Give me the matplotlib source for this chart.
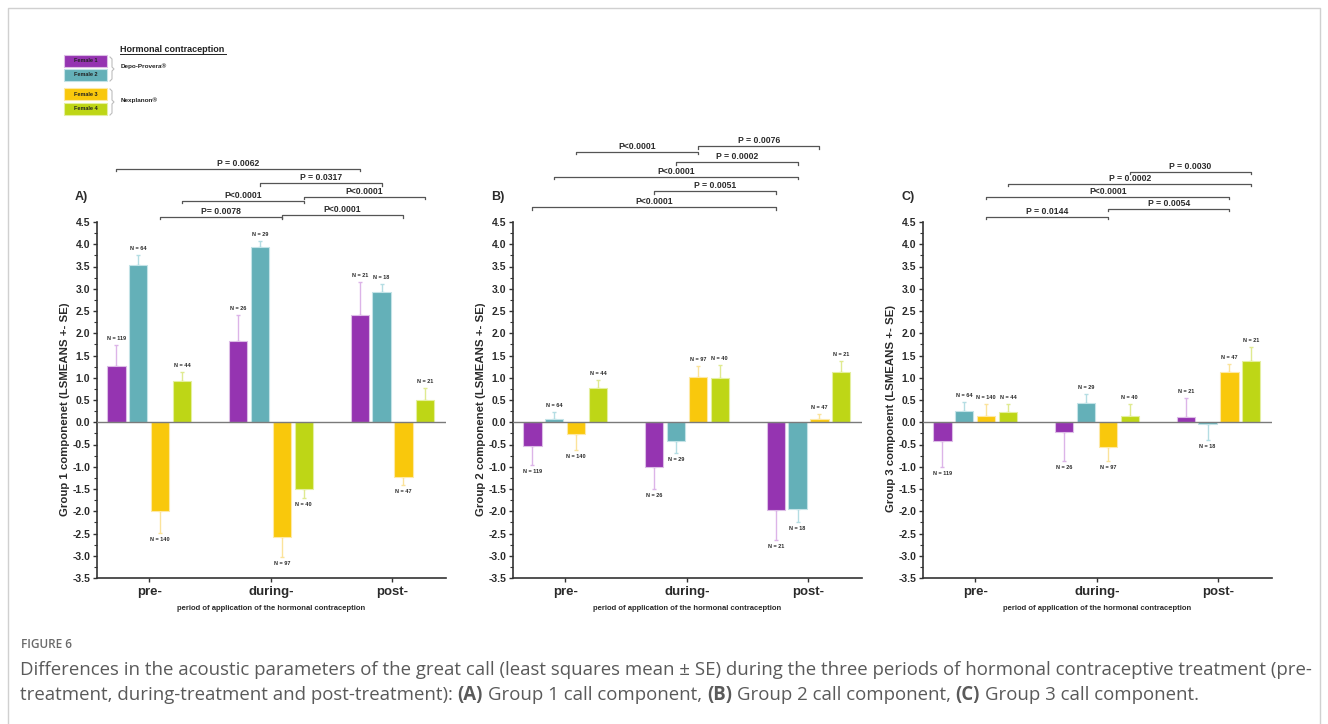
import matplotlib
matplotlib.use('Agg')
import matplotlib.pyplot as plt
import numpy as np
from matplotlib.lines import Line2D
from matplotlib.patches import Rectangle

plt.rcParams['font.family'] = 'Liberation Sans'

periods = ['pre-', 'during-', 'post-']
females = ['Female 1', 'Female 2', 'Female 3', 'Female 4']
n_counts = [[119, 26, 21], [64, 29, 18], [140, 97, 47], [44, 40, 21]]

# least squares means per female (rows) and period (columns)
g1_means = [[1.27, 1.82, 2.42], [3.53, 3.93, 2.93], [-2.00, -2.57, -1.23], [0.92, -1.51, 0.50]]
g1_se = [[0.47, 0.58, 0.74], [0.22, 0.15, 0.18], [0.48, 0.46, 0.18], [0.22, 0.20, 0.28]]
g2_means = [[-0.53, -1.01, -1.98], [0.07, -0.43, -1.95], [-0.27, 1.02, 0.07], [0.76, 0.99, 1.13]]
g2_se = [[0.42, 0.49, 0.67], [0.16, 0.26, 0.29], [0.35, 0.24, 0.11], [0.20, 0.29, 0.24]]
g3_means = [[-0.43, -0.23, 0.11], [0.25, 0.43, -0.05], [0.13, -0.55, 1.12], [0.24, 0.14, 1.37]]
g3_se = [[0.57, 0.64, 0.43], [0.20, 0.20, 0.35], [0.27, 0.33, 0.20], [0.16, 0.26, 0.31]]

# significance brackets: (female, period from, period to, level, label)
g1_pvals = [(0, 0, 2, 5.69, 'P = 0.0062'), (1, 1, 2, 5.37, 'P = 0.0317'),
            (3, 0, 1, 4.97, 'P<0.0001'), (3, 1, 2, 5.06, 'P<0.0001'),
            (2, 0, 1, 4.61, 'P= 0.0078'), (2, 1, 2, 4.65, 'P<0.0001')]
g2_pvals = [(2, 0, 1, 6.07, 'P<0.0001'), (2, 1, 2, 6.20, 'P = 0.0076'),
            (1, 1, 2, 5.84, 'P = 0.0002'), (1, 0, 2, 5.51, 'P<0.0001'),
            (0, 1, 2, 5.19, 'P = 0.0051'), (0, 0, 2, 4.83, 'P<0.0001')]
g3_pvals = [(3, 1, 2, 5.62, 'P = 0.0030'), (3, 0, 2, 5.35, 'P = 0.0002'),
            (2, 0, 2, 5.06, 'P<0.0001'), (2, 1, 2, 4.79, 'P = 0.0054'),
            (2, 0, 1, 4.61, 'P = 0.0144')]

bar_colors = ['#9534b1', '#64b0b8', '#f9c80c', '#bed616']
edge_colors = ['#dcbde6', '#c4e3e7', '#fde9a6', '#e4ef9f']
err_colors = ['#dcb4e8', '#b4dde3', '#fbe39a', '#dfea90']
offsets = [-0.27, -0.09, 0.09, 0.27]
txt = '#2b2b2b'

W, H = 1328, 724
fig = plt.figure(figsize=(W / 100, H / 100), dpi=100)


def fx(x):
    return x / W


def fy(y):
    return 1 - y / H


def draw_panel(left, means, ses, pvals, ylabel, tag):
    ax = fig.add_axes([fx(left), fy(578), 349 / W, 356 / H])
    x = np.arange(3)
    for i in range(4):
        xs = x + offsets[i]
        m = np.array(means[i])
        s = np.array(ses[i])
        ax.bar(xs, m, width=0.15, color=bar_colors[i], edgecolor=edge_colors[i], linewidth=0.8, zorder=2)
        lower = np.where(m < 0, s, 0)
        upper = np.where(m >= 0, s, 0)
        ax.errorbar(xs, m, yerr=[lower, upper], fmt='none', ecolor=err_colors[i],
                    elinewidth=1, capsize=1.5, capthick=1, zorder=1)
        for xi, mi, si, n in zip(xs, m, s, n_counts[i]):
            if mi >= 0:
                ax.text(xi, mi + si + 0.09, f'N = {n}', ha='center', va='bottom',
                        fontsize=4, fontweight='bold', color=txt)
            else:
                ax.text(xi, mi - si - 0.09, f'N = {n}', ha='center', va='top',
                        fontsize=4, fontweight='bold', color=txt)
    ax.axhline(0, color='#7a7a7a', lw=1, zorder=3)

    for fem, p0, p1, lev, lab in pvals:
        x0 = p0 + offsets[fem]
        x1 = p1 + offsets[fem]
        ax.plot([x0, x0, x1, x1], [lev - 0.05, lev, lev, lev - 0.05], color='#555555',
                lw=0.9, clip_on=False)
        ax.text((x0 + x1) / 2, lev + 0.03, lab, ha='center', va='bottom', fontsize=6.2,
                fontweight='bold', color=txt, clip_on=False)

    ax.set_xlim(-0.43, 2.44)
    ax.set_ylim(-3.5, 4.5)
    ax.set_yticks(np.arange(-3.5, 4.51, 0.5))
    ax.set_yticks(np.arange(-3.5, 4.51, 0.25), minor=True)
    ax.set_yticklabels([f'{v:.1f}' for v in np.arange(-3.5, 4.51, 0.5)])
    ax.set_xticks(x)
    ax.set_xticklabels(periods)
    for lab in ax.get_yticklabels():
        lab.set_fontweight('bold')
        lab.set_fontsize(7.5)
        lab.set_color(txt)
    for lab in ax.get_xticklabels():
        lab.set_fontweight('bold')
        lab.set_fontsize(9.5)
        lab.set_color(txt)
    ax.tick_params(axis='y', which='major', length=3, width=1, color='#333333', pad=2)
    ax.tick_params(axis='y', which='minor', length=2, width=0.8, color='#333333')
    ax.tick_params(axis='x', length=3, width=1, color='#333333', pad=3)
    for side in ['top', 'right']:
        ax.spines[side].set_visible(False)
    for side in ['left', 'bottom']:
        ax.spines[side].set_color('#333333')
        ax.spines[side].set_linewidth(1.2)

    ax.set_ylabel(ylabel, fontsize=8.2, fontweight='bold', color=txt)
    ax.yaxis.set_label_coords(-0.077, 0.475)
    ax.text(0.5, -0.086, 'period of application of the hormonal contraception', transform=ax.transAxes,
            ha='center', va='center', fontsize=5.5, fontweight='bold', color=txt)
    ax.text(-0.063, 1.07, tag, transform=ax.transAxes, ha='left', va='center',
            fontsize=9, fontweight='bold', color=txt)
    return ax


draw_panel(97, g1_means, g1_se, g1_pvals, 'Group 1 componenet (LSMEANS +- SE)', 'A)')
draw_panel(513, g2_means, g2_se, g2_pvals, 'Group 2 componenet (LSMEANS +- SE)', 'B)')
draw_panel(923, g3_means, g3_se, g3_pvals, 'Group 3 component (LSMEANS +- SE)', 'C)')

# legend
box_y = [(55, 67), (69, 81), (88, 100), (103, 115)]
for i, (y0, y1) in enumerate(box_y):
    fig.patches.append(Rectangle((fx(64), fy(y1)), 43 / W, (y1 - y0) / H, transform=fig.transFigure,
                                 facecolor=bar_colors[i], edgecolor=edge_colors[i], lw=0.8))
    fig.text(fx(85.5), fy((y0 + y1) / 2), females[i], ha='center', va='center', fontsize=4,
             fontweight='bold', color='#222222')
for ya, yb in [(57, 81), (89, 115)]:
    ym = (ya + yb) / 2
    px = [110, 112, 112, 114, 112, 112, 110]
    py = [ya, ya + 2, ym - 2, ym, ym + 2, yb - 2, yb]
    fig.lines.append(Line2D([fx(v) for v in px], [fy(v) for v in py], transform=fig.transFigure,
                            color='#bdbdbd', lw=0.8))
fig.text(fx(120), fy(49), 'Hormonal contraception', ha='left', va='center', fontsize=6.5,
         fontweight='bold', color='#222222')
fig.lines.append(Line2D([fx(120), fx(226)], [fy(54), fy(54)], transform=fig.transFigure,
                        color='#222222', lw=0.7))
fig.text(fx(121), fy(66), 'Depo-Provera®', ha='left', va='center', fontsize=4.6,
         fontweight='bold', color='#222222')
fig.text(fx(121), fy(100), 'Nexplanon®', ha='left', va='center', fontsize=4.6,
         fontweight='bold', color='#222222')

# frame
fig.lines.append(Line2D([fx(8), fx(8), fx(1320), fx(1320)], [fy(740), fy(8), fy(8), fy(740)],
                        transform=fig.transFigure, color='#d0d0d0', lw=1))

# caption
cap_font = 'Open Sans'
cap_color = '#5a5a5a'
renderer = fig.canvas.get_renderer()

fig.text(fx(21), fy(644), 'FIGURE 6', ha='left', va='center', fontsize=8.5, family=cap_font,
         fontweight='semibold', color='#6a6a6a')
line1 = ('Differences in the acoustic parameters of the great call (least squares mean ± SE) during '
         'the three periods of hormonal contraceptive treatment (pre-')
t1 = fig.text(fx(20), fy(670), line1, ha='left', va='center', fontsize=12, family=cap_font, color=cap_color)
w1 = t1.get_window_extent(renderer).width
cap_size = 12 * 1284 / w1
t1.set_fontsize(cap_size)

pieces = [('treatment, during-treatment and post-treatment):', 'normal'), ('(A)', 'bold'),
          ('Group 1 call component,', 'normal'), ('(B)', 'bold'),
          ('Group 2 call component,', 'normal'), ('(C)', 'bold'),
          ('Group 3 call component.', 'normal')]
probe_a = fig.text(0, 0, 'a a', fontsize=cap_size, family=cap_font)
probe_b = fig.text(0, 0, 'aa', fontsize=cap_size, family=cap_font)
space = probe_a.get_window_extent(renderer).width - probe_b.get_window_extent(renderer).width
probe_a.remove()
probe_b.remove()
xpos = 20
for s, wgt in pieces:
    t = fig.text(fx(xpos), fy(695), s, ha='left', va='center', fontsize=cap_size, family=cap_font,
                 fontweight=wgt, color=cap_color)
    xpos += t.get_window_extent(renderer).width + space

fig.savefig('out.png', dpi=100)
